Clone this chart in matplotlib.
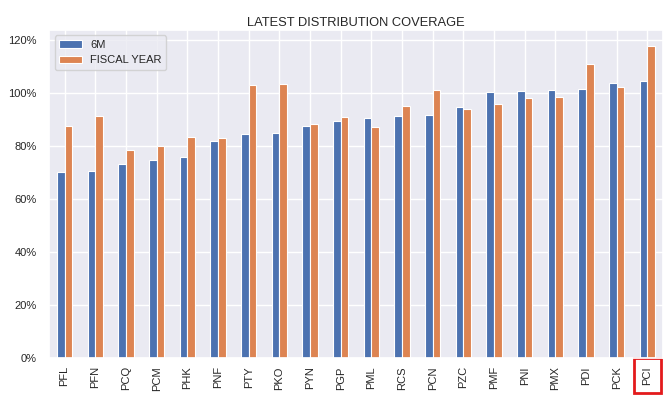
"""Latest distribution coverage bar chart."""

import matplotlib
matplotlib.use("Agg")
import matplotlib.pyplot as plt
import numpy as np
import seaborn as sns
from matplotlib.ticker import PercentFormatter

tickers = ["PFL", "PFN", "PCQ", "PCM", "PHK", "PNF", "PTY", "PKO", "PYN", "PGP",
           "PML", "RCS", "PCN", "PZC", "PMF", "PNI", "PMX", "PDI", "PCK", "PCI"]
coverage_6m = [0.703, 0.707, 0.733, 0.748, 0.758, 0.820, 0.845, 0.849, 0.877, 0.894,
               0.904, 0.912, 0.918, 0.947, 1.003, 1.008, 1.011, 1.014, 1.038, 1.045]
coverage_fy = [0.875, 0.913, 0.785, 0.800, 0.835, 0.831, 1.029, 1.034, 0.883, 0.909,
               0.870, 0.952, 1.011, 0.940, 0.960, 0.982, 0.984, 1.108, 1.024, 1.176]
highlight = "PCI"

sns.set_theme(style="darkgrid")
plt.rcParams["font.family"] = ["Liberation Sans", "DejaVu Sans"]

fig = plt.figure(figsize=(6.66, 3.99), dpi=100)
ax = fig.add_axes([0.074, 0.103, 0.921, 0.822])

x = np.arange(len(tickers))
width = 0.25
ax.bar(x - width / 2, coverage_6m, width, color="#4c72b0", edgecolor="white",
       linewidth=0.8, label="6M")
ax.bar(x + width / 2, coverage_fy, width, color="#dd8452", edgecolor="white",
       linewidth=0.8, label="FISCAL YEAR")

ax.set_xlim(-0.5, len(tickers) - 0.5)
ax.set_ylim(0, 1.238)
ax.yaxis.set_major_formatter(PercentFormatter(1.0, decimals=0))
ax.set_xticks(x, tickers, rotation=90)
ax.tick_params(axis="both", labelsize=8, pad=3)
ax.tick_params(axis="x", pad=0)
ax.set_title("LATEST DISTRIBUTION COVERAGE", fontsize=9.3, pad=3)
ax.legend(loc="upper left", fontsize=8, frameon=True)

for label in ax.get_xticklabels():
    if label.get_text() == highlight:
        label.set_bbox(dict(facecolor="none", edgecolor="#e31a1c", linewidth=2, pad=6))

fig.savefig("out.png", dpi=100)
